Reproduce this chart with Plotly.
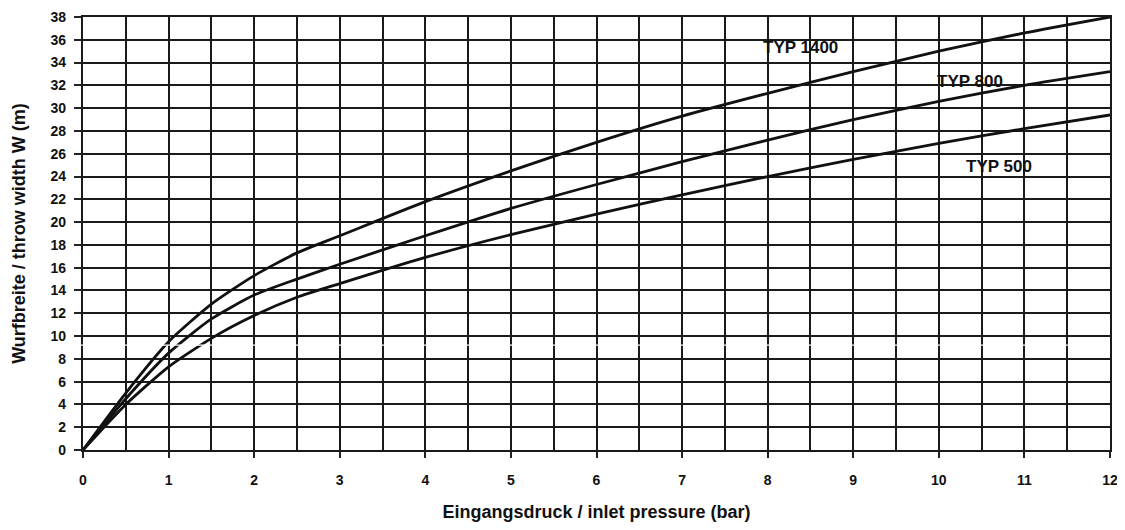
import plotly.graph_objects as go

pressure = [0, 0.5, 1, 1.5, 2, 2.5, 3, 4, 5, 6, 7, 8, 9, 10, 11, 12]
typ1400 = [0, 5.0, 9.5, 12.8, 15.3, 17.3, 18.8, 21.8, 24.5, 27.0, 29.3, 31.3, 33.2, 35.0, 36.6, 38.0]
typ800 = [0, 4.5, 8.5, 11.5, 13.6, 15.0, 16.3, 18.8, 21.2, 23.3, 25.3, 27.2, 29.0, 30.6, 32.0, 33.2]
typ500 = [0, 4.0, 7.3, 9.8, 11.8, 13.4, 14.6, 16.9, 18.9, 20.7, 22.4, 24.0, 25.5, 26.9, 28.2, 29.4]

labels = ["TYP 1400", "TYP 800", "TYP 500"]
label_x = [8.38, 10.36, 10.7]
label_y = [35.3, 32.3, 24.9]

FONT = "Liberation Sans"

fig = go.Figure()
for ys in (typ1400, typ800, typ500):
    fig.add_trace(go.Scatter(x=pressure, y=ys, mode="lines",
                             line=dict(color="#111111", width=2.8, shape="spline", smoothing=0.6),
                             showlegend=False, hoverinfo="skip"))

for t, lx, ly in zip(labels, label_x, label_y):
    fig.add_annotation(x=lx, y=ly, text="<b>" + t + "</b>", showarrow=False,
                       font=dict(family=FONT, size=17, color="#111111"))

# faint white seam across the scanned chart
fig.add_shape(type="line", xref="paper", x0=-0.02, x1=1.0, yref="y", y0=9.2, y1=9.2,
              line=dict(color="white", width=1.2), layer="above")

fig.update_layout(
    width=1112, height=514,
    margin=dict(l=75, r=10, t=9, b=72),
    paper_bgcolor="white", plot_bgcolor="white",
    font=dict(family=FONT, color="#111111"),
    xaxis=dict(range=[0, 12], dtick=1, tick0=0, showgrid=True, gridcolor="#1a1a1a", gridwidth=2.2,
               minor=dict(dtick=0.5, showgrid=True, gridcolor="#1a1a1a", gridwidth=2.2),
               ticks="outside", ticklen=6, tickwidth=2, tickcolor="#222222",
               ticklabelstandoff=10,
               tickfont=dict(family=FONT, size=14, weight="bold"), automargin=False,
               showline=True, linecolor="#1a1a1a", linewidth=2.2, mirror=True, zeroline=False,
               title=dict(text="<b>Eingangsdruck / inlet pressure (bar)</b>",
                          font=dict(family=FONT, size=18), standoff=20)),
    yaxis=dict(range=[0, 38], dtick=2, tick0=0, showgrid=True, gridcolor="#1a1a1a", gridwidth=2.2,
               ticks="outside", ticklen=7, tickwidth=2, tickcolor="#222222",
               ticklabelstandoff=5,
               tickfont=dict(family=FONT, size=14, weight="bold"), automargin=False,
               showline=True, linecolor="#1a1a1a", linewidth=2.2, mirror=True, zeroline=False,
               title=dict(text="<b>Wurfbreite / throw width W (m)</b>",
                          font=dict(family=FONT, size=18), standoff=20)),
)

fig.write_html("out.html")
